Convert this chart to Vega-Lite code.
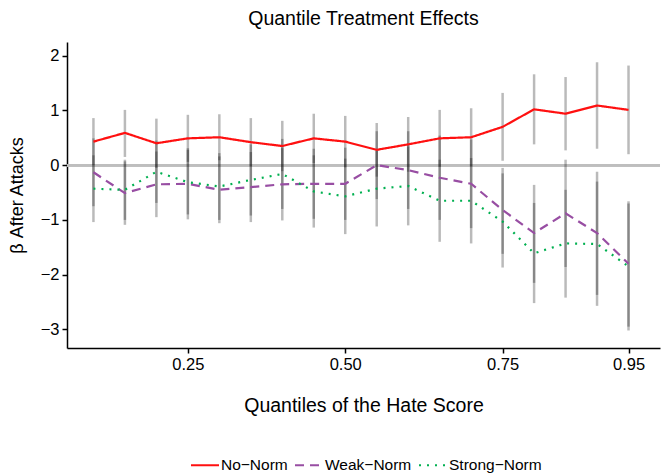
{
  "$schema": "https://vega.github.io/schema/vega-lite/v6.json",
  "width": 593,
  "height": 306,
  "autosize": {"type": "none"},
  "padding": {"left": 67, "top": 42, "right": 7, "bottom": 127},
  "background": "white",
  "title": {"text": "Quantile Treatment Effects", "fontSize": 19.5, "fontWeight": "normal", "font": "Liberation Sans", "color": "black", "offset": 13},
  "data": {"values": [
    {"norm": "No−Norm", "q": 0.10, "beta": 0.43, "lo": 0.00, "hi": 0.86},
    {"norm": "No−Norm", "q": 0.15, "beta": 0.59, "lo": 0.15, "hi": 1.01},
    {"norm": "No−Norm", "q": 0.20, "beta": 0.40, "lo": -0.05, "hi": 0.85},
    {"norm": "No−Norm", "q": 0.25, "beta": 0.49, "lo": 0.06, "hi": 0.92},
    {"norm": "No−Norm", "q": 0.30, "beta": 0.51, "lo": 0.09, "hi": 0.93},
    {"norm": "No−Norm", "q": 0.35, "beta": 0.42, "lo": -0.02, "hi": 0.86},
    {"norm": "No−Norm", "q": 0.40, "beta": 0.35, "lo": -0.11, "hi": 0.81},
    {"norm": "No−Norm", "q": 0.45, "beta": 0.49, "lo": 0.04, "hi": 0.94},
    {"norm": "No−Norm", "q": 0.50, "beta": 0.43, "lo": -0.04, "hi": 0.90},
    {"norm": "No−Norm", "q": 0.55, "beta": 0.28, "lo": -0.21, "hi": 0.77},
    {"norm": "No−Norm", "q": 0.60, "beta": 0.38, "lo": -0.12, "hi": 0.88},
    {"norm": "No−Norm", "q": 0.65, "beta": 0.49, "lo": -0.03, "hi": 1.01},
    {"norm": "No−Norm", "q": 0.70, "beta": 0.51, "lo": -0.02, "hi": 1.04},
    {"norm": "No−Norm", "q": 0.75, "beta": 0.70, "lo": 0.08, "hi": 1.32},
    {"norm": "No−Norm", "q": 0.80, "beta": 1.02, "lo": 0.38, "hi": 1.66},
    {"norm": "No−Norm", "q": 0.85, "beta": 0.94, "lo": 0.27, "hi": 1.61},
    {"norm": "No−Norm", "q": 0.90, "beta": 1.09, "lo": 0.30, "hi": 1.88},
    {"norm": "No−Norm", "q": 0.95, "beta": 1.01, "lo": 0.20, "hi": 1.82},
    {"norm": "Weak−Norm", "q": 0.10, "beta": -0.13, "lo": -0.75, "hi": 0.49},
    {"norm": "Weak−Norm", "q": 0.15, "beta": -0.51, "lo": -1.09, "hi": 0.07},
    {"norm": "Weak−Norm", "q": 0.20, "beta": -0.35, "lo": -0.95, "hi": 0.25},
    {"norm": "Weak−Norm", "q": 0.25, "beta": -0.34, "lo": -0.99, "hi": 0.31},
    {"norm": "Weak−Norm", "q": 0.30, "beta": -0.45, "lo": -1.06, "hi": 0.16},
    {"norm": "Weak−Norm", "q": 0.35, "beta": -0.40, "lo": -1.04, "hi": 0.24},
    {"norm": "Weak−Norm", "q": 0.40, "beta": -0.35, "lo": -1.01, "hi": 0.31},
    {"norm": "Weak−Norm", "q": 0.45, "beta": -0.34, "lo": -0.98, "hi": 0.30},
    {"norm": "Weak−Norm", "q": 0.50, "beta": -0.34, "lo": -1.00, "hi": 0.32},
    {"norm": "Weak−Norm", "q": 0.55, "beta": 0.00, "lo": -0.62, "hi": 0.62},
    {"norm": "Weak−Norm", "q": 0.60, "beta": -0.09, "lo": -0.80, "hi": 0.62},
    {"norm": "Weak−Norm", "q": 0.65, "beta": -0.23, "lo": -1.00, "hi": 0.54},
    {"norm": "Weak−Norm", "q": 0.70, "beta": -0.34, "lo": -1.15, "hi": 0.47},
    {"norm": "Weak−Norm", "q": 0.75, "beta": -0.82, "lo": -1.62, "hi": -0.05},
    {"norm": "Weak−Norm", "q": 0.80, "beta": -1.24, "lo": -2.15, "hi": -0.36},
    {"norm": "Weak−Norm", "q": 0.85, "beta": -0.88, "lo": -1.86, "hi": 0.10},
    {"norm": "Weak−Norm", "q": 0.90, "beta": -1.24, "lo": -2.37, "hi": -0.12},
    {"norm": "Weak−Norm", "q": 0.95, "beta": -1.80, "lo": -2.95, "hi": -0.66},
    {"norm": "Strong−Norm", "q": 0.10, "beta": -0.43, "lo": -1.04, "hi": 0.18},
    {"norm": "Strong−Norm", "q": 0.15, "beta": -0.45, "lo": -1.00, "hi": 0.10},
    {"norm": "Strong−Norm", "q": 0.20, "beta": -0.12, "lo": -0.69, "hi": 0.45},
    {"norm": "Strong−Norm", "q": 0.25, "beta": -0.31, "lo": -0.90, "hi": 0.28},
    {"norm": "Strong−Norm", "q": 0.30, "beta": -0.39, "lo": -1.00, "hi": 0.22},
    {"norm": "Strong−Norm", "q": 0.35, "beta": -0.27, "lo": -0.92, "hi": 0.38},
    {"norm": "Strong−Norm", "q": 0.40, "beta": -0.16, "lo": -0.80, "hi": 0.48},
    {"norm": "Strong−Norm", "q": 0.45, "beta": -0.48, "lo": -1.14, "hi": 0.18},
    {"norm": "Strong−Norm", "q": 0.50, "beta": -0.57, "lo": -1.26, "hi": 0.12},
    {"norm": "Strong−Norm", "q": 0.55, "beta": -0.43, "lo": -1.12, "hi": 0.26},
    {"norm": "Strong−Norm", "q": 0.60, "beta": -0.38, "lo": -1.10, "hi": 0.34},
    {"norm": "Strong−Norm", "q": 0.65, "beta": -0.65, "lo": -1.40, "hi": 0.10},
    {"norm": "Strong−Norm", "q": 0.70, "beta": -0.65, "lo": -1.43, "hi": 0.13},
    {"norm": "Strong−Norm", "q": 0.75, "beta": -1.03, "lo": -1.87, "hi": -0.15},
    {"norm": "Strong−Norm", "q": 0.80, "beta": -1.61, "lo": -2.52, "hi": -0.69},
    {"norm": "Strong−Norm", "q": 0.85, "beta": -1.43, "lo": -2.42, "hi": -0.45},
    {"norm": "Strong−Norm", "q": 0.90, "beta": -1.44, "lo": -2.57, "hi": -0.30},
    {"norm": "Strong−Norm", "q": 0.95, "beta": -1.85, "lo": -3.02, "hi": -0.70}
  ]},
  "encoding": {
    "x": {"field": "q", "type": "quantitative",
      "scale": {"domain": [0.058, 1.0], "nice": false, "zero": false},
      "axis": {"values": [0.25, 0.5, 0.75, 0.95], "format": ".2f", "title": "Quantiles of the Hate Score", "titlePadding": 24, "titleFontSize": 19.5}}
  },
  "layer": [
    {
      "mark": {"type": "rule", "color": "#BEBEBE", "strokeWidth": 2},
      "encoding": {"y": {"datum": 0, "type": "quantitative"}, "x": null}
    },
    {
      "mark": {"type": "rule", "color": "black", "opacity": 0.27, "strokeWidth": 2.5},
      "encoding": {
        "y": {"field": "lo", "type": "quantitative",
          "scale": {"domain": [-3.34, 2.25], "nice": false, "zero": false},
          "axis": {"values": [-3, -2, -1, 0, 1, 2], "format": "d", "title": "β After Attacks", "titlePadding": 14}},
        "y2": {"field": "hi"},
        "detail": {"field": "norm"}
      }
    },
    {
      "mark": {"type": "line", "strokeWidth": 2.2},
      "encoding": {
        "y": {"field": "beta", "type": "quantitative"},
        "color": {"field": "norm", "type": "nominal",
          "scale": {"domain": ["No−Norm", "Weak−Norm", "Strong−Norm"], "range": ["#FF1010", "#984EA3", "#00B050"]},
          "legend": {"title": null, "orient": "none", "direction": "horizontal", "legendX": 123, "legendY": 408}},
        "strokeDash": {"field": "norm", "type": "nominal",
          "scale": {"domain": ["No−Norm", "Weak−Norm", "Strong−Norm"], "range": [[1, 0], [9, 6], [2, 6]]},
          "legend": {"title": null, "orient": "none", "direction": "horizontal", "legendX": 123, "legendY": 408}}
      }
    }
  ],
  "config": {
    "font": "Liberation Sans",
    "view": {"stroke": null},
    "axis": {
      "grid": false,
      "domainColor": "black", "domainWidth": 1.5,
      "tickColor": "black", "tickWidth": 1.5, "tickSize": 5,
      "labelColor": "black", "labelFontSize": 16.5, "labelFont": "Liberation Sans", "labelPadding": 3,
      "titleColor": "black", "titleFontSize": 18, "titleFont": "Liberation Sans", "titleFontWeight": "normal"
    },
    "legend": {
      "symbolType": "stroke", "symbolSize": 784, "symbolStrokeWidth": 2,
      "labelFontSize": 15.5, "labelColor": "black", "labelFont": "Liberation Sans",
      "labelOffset": 1, "columnPadding": 3, "symbolOpacity": 1
    }
  }
}
